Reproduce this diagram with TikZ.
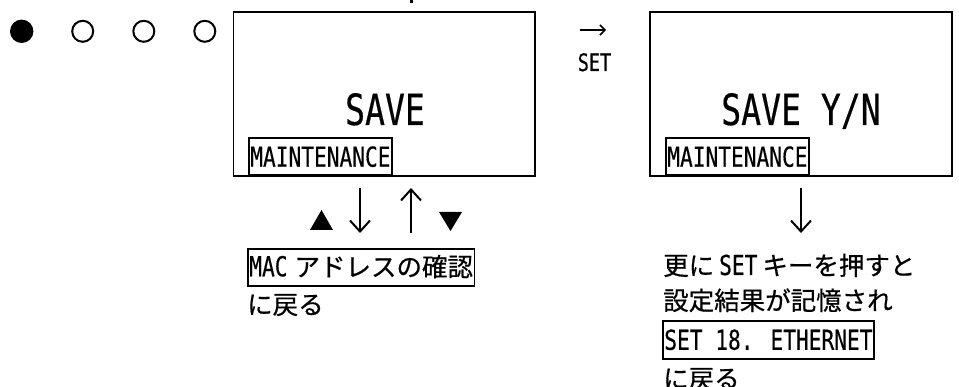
\documentclass[tikz,border=0pt]{standalone}
\usepackage{fontspec}
\usepackage{tikz}
\usetikzlibrary{arrows.meta}
\newfontfamily\jpfont[FakeBold=0.6]{Noto Sans CJK JP}
\newfontfamily\halffont[FakeStretch=0.77,FakeBold=0.4]{DejaVu Sans Mono}
\newcommand{\hw}[1]{{\fontsize{27.5}{35}\selectfont\halffont #1}}
\tikzset{
  screen/.style={draw=black,line width=1.6pt,
                 minimum width=301.5pt,minimum height=164pt,inner sep=0pt},
  bigtxt/.style={font=\fontsize{43}{50}\selectfont\halffont,inner sep=0pt,anchor=base},
  modebox/.style={draw=black,line width=1.6pt,font=\fontsize{27.5}{35}\selectfont\halffont,
                  text height=20pt,text depth=0pt,inner xsep=1.5pt,inner ysep=8.5pt,
                  anchor=south west},
  linkbox/.style={draw=black,line width=1.6pt,font=\fontsize{25.5}{35}\selectfont\jpfont,
                  text height=22pt,text depth=4pt,inner xsep=1.5pt,inner ysep=5.5pt,
                  anchor=north west},
  note/.style={font=\fontsize{25.5}{35}\selectfont\jpfont,inner sep=0pt,anchor=base west},
  dotfull/.style={circle,fill=black,minimum size=23.4pt,inner sep=0pt},
  dotopen/.style={circle,draw=black,line width=2pt,minimum size=21pt,inner sep=0pt},
  keyarr/.style={-{Straight Barb[length=11pt,width=20pt]},line width=2pt},
  setarr/.style={-{Straight Barb[length=5pt,width=10pt]},line width=1.5pt}
}
\begin{document}
\begin{tikzpicture}[x=1pt,y=-1pt]
    \path[use as bounding box] (0,0) rectangle (959,387);
    % step dots
    \node[dotfull] (d1) at (21.7,31.3) {};
    \node[dotopen] (d2) at (82.7,31.3) {};
    \node[dotopen] (d3) at (143.8,31.3) {};
    \node[dotopen] (d4) at (204.8,31.3) {};
    \draw[line width=3pt] (411,0) -- (411,3.5);

    % first screen
    \node[screen] (scr1) at (384.25,94) {};
    \node[bigtxt] (save) at (385,125) {SAVE};
    \node[modebox] (mnt1) at (248,176) {MAINTENANCE};

    % SET key
    \coordinate (setL) at (580,30);
    \coordinate (setR) at (606,30);
    \draw[setarr] (setL) -- (setR);
    \node[font=\fontsize{24}{28}\selectfont\halffont,inner sep=0pt,anchor=base]
      (setkey) at (594.5,71) {SET};

    % second screen
    \node[screen] (scr2) at (801,94) {};
    \node[bigtxt] (saveyn) at (801,125) {SAVE Y/N};
    \node[modebox] (mnt2) at (665,176) {MAINTENANCE};

    % up / down keys
    \fill (310,230) -- (333,230) -- (321.5,210) -- cycle;
    \fill (439,212) -- (462,212) -- (450.5,231) -- cycle;
    \coordinate (dnA) at (360,188);
    \coordinate (dnB) at (360,233);
    \coordinate (upA) at (411,233);
    \coordinate (upB) at (411,188);
    \draw[keyarr] (dnA) -- (dnB);
    \draw[keyarr] (upA) -- (upB);
    \node[linkbox] (mac) at (247,248) {\hw{MAC}\hspace{7pt}アドレスの確認};
    \node[note] (back1) at (247,314) {に戻る};

    % confirm
    \coordinate (okA) at (801,188);
    \coordinate (okB) at (801,233);
    \draw[keyarr] (okA) -- (okB);
    \node[note] (l1) at (663,275) {更に\hspace{5pt}\hw{SET}\hspace{5pt}キーを押すと};
    \node[note] (l2) at (663,310) {設定結果が記憶され};
    \node[modebox,anchor=north west,text height=21pt,text depth=1pt,inner ysep=8pt]
      (eth) at (662,320) {SET 18. ETHERNET};
    \node[note] (back2) at (663,388) {に戻る};
\end{tikzpicture}
\end{document}
